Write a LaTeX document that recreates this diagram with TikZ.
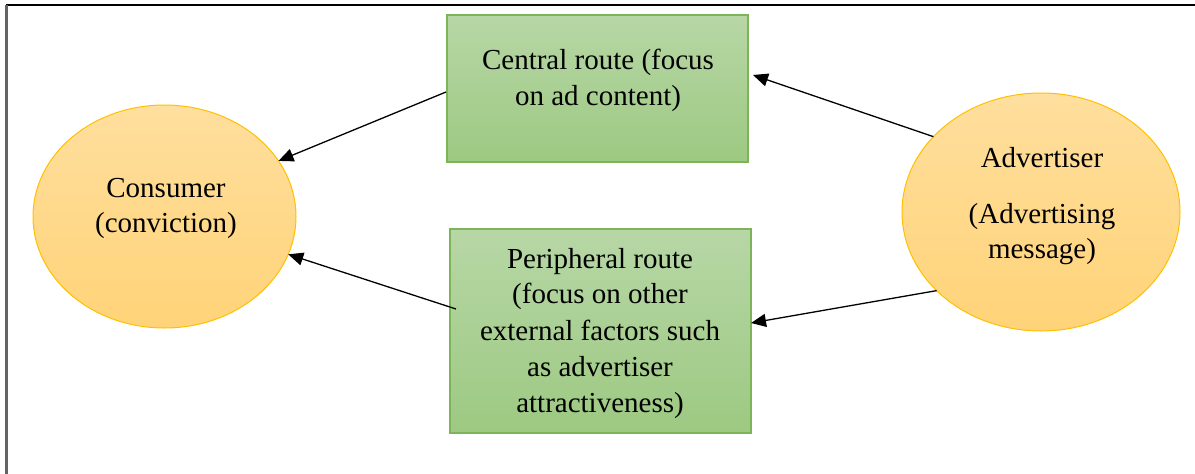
\documentclass[tikz,border=0pt]{standalone}
\usepackage{fontspec}
\setmainfont{Liberation Serif}
\usetikzlibrary{arrows.meta,shapes.geometric}

\definecolor{ovalfill}{RGB}{255,223,158}
\definecolor{ovalfilldark}{RGB}{255,211,120}
\definecolor{ovalline}{RGB}{255,192,0}
\definecolor{boxfill}{RGB}{183,215,166}
\definecolor{boxfilldark}{RGB}{157,201,130}
\definecolor{boxline}{RGB}{125,180,88}
\definecolor{framegray}{RGB}{100,100,100}

\tikzset{
  oval/.style={ellipse, draw=ovalline, line width=1pt, top color=ovalfill,
    bottom color=ovalfilldark, inner sep=0pt, outer sep=0pt},
  routebox/.style={rectangle, draw=boxline, line width=1.2pt, top color=boxfill,
    bottom color=boxfilldark, inner sep=0pt, outer sep=0pt, minimum width=301pt},
  txt/.style={anchor=base, inner sep=0pt, font=\fontsize{29}{36}\selectfont},
  arr/.style={line width=1.3pt, -{Triangle[length=15pt,width=13pt]}}
}

\begin{document}
\begin{tikzpicture}[x=1pt,y=-1pt]
  \useasboundingbox (0,0) rectangle (1195,474);

  % page frame
  \draw[line width=1.3pt] (6,5) -- (1195,5);
  \draw[framegray, line width=2.2pt] (6.5,5) -- (6.5,474);

  % shapes
  \node[oval, minimum width=263pt, minimum height=223pt] (con) at (164.5,216.5) {};
  \node[oval, minimum width=278pt, minimum height=238pt] (adv) at (1041,212) {};
  \node[routebox, minimum height=147pt] (cen) at (597.5,88.5) {};
  \node[routebox, minimum height=204pt] (per) at (600.5,331) {};

  % labels
  \node[txt] (con1) at (166,197) {Consumer};
  \node[txt] (con2) at (166,232) {(conviction)};

  \node[txt] (adv1) at (1042,167) {Advertiser};
  \node[txt] (adv2) at (1042,223) {(Advertising};
  \node[txt] (adv3) at (1042,258) {message)};

  \node[txt] (cen1) at (598,69) {Central route (focus};
  \node[txt] (cen2) at (598,105) {on ad content)};

  \node[txt] (per1) at (600,268) {Peripheral route};
  \node[txt] (per2) at (600,303) {(focus on other};
  \node[txt] (per3) at (600,340) {external factors such};
  \node[txt] (per4) at (600,376) {as advertiser};
  \node[txt] (per5) at (600,412) {attractiveness)};

  % connectors
  \draw[arr] ([xshift=-1pt,yshift=-3.5pt]cen.west) -- (con.26);
  \draw[arr] ([xshift=6pt,yshift=22pt]per.west) -- (con.-17);
  \draw[arr] (adv.145) -- ([xshift=5pt,yshift=13.5pt]cen.east);
  \draw[arr] (adv.217) -- ([yshift=8pt]per.east);
\end{tikzpicture}
\end{document}
